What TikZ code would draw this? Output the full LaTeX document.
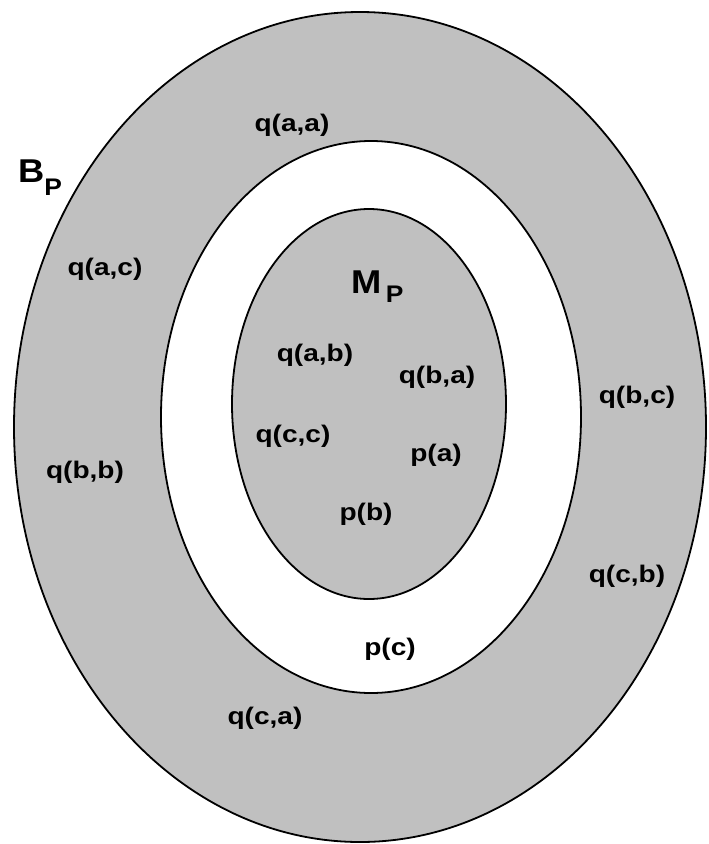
\documentclass[tikz,border=0pt]{standalone}
\usepackage{fontspec}
\setmainfont{Liberation Sans}
\definecolor{setGray}{RGB}{192, 192, 192}

\begin{document}
\begin{tikzpicture}[x=1pt, y=-1pt,
    ring/.style={draw=black, line width=1.8pt},
    lbl/.style={inner sep=0pt, font=\bfseries\fontsize{24}{26}\selectfont, xscale=1.17, transform shape},
    bigl/.style={inner sep=0pt, font=\bfseries\fontsize{33}{36}\selectfont, xscale=1.1, transform shape}
  ]
  \useasboundingbox (0,0) rectangle (709,844);
  % the three sets
  \draw[ring, fill=setGray] (360,427) ellipse [x radius=346pt, y radius=415pt];
  \draw[ring, fill=white] (371,417) ellipse [x radius=210pt, y radius=276pt];
  \draw[ring, fill=setGray] (369,404) ellipse [x radius=137pt, y radius=195pt];
  % set names
  \node[bigl, anchor=base west] (bp) at (18,182) {B\raisebox{-13pt}{\fontsize{24}{26}\selectfont P}};
  \node[bigl, anchor=base west] (mp) at (351,293) {M\kern4pt\raisebox{-9pt}{\fontsize{24}{26}\selectfont P}};
  % atoms
  \node[lbl] (qaa) at (292,125) {q(a,a)};
  \node[lbl] (qac) at (105,269) {q(a,c)};
  \node[lbl] (qab) at (315,355) {q(a,b)};
  \node[lbl] (qba) at (437,377) {q(b,a)};
  \node[lbl] (qbc) at (637,397) {q(b,c)};
  \node[lbl] (qcc) at (293,436) {q(c,c)};
  \node[lbl] (pa) at (436,455) {p(a)};
  \node[lbl] (qbb) at (85,472) {q(b,b)};
  \node[lbl] (pb) at (366,514) {p(b)};
  \node[lbl] (qcb) at (627,576) {q(c,b)};
  \node[lbl] (pc) at (390,649) {p(c)};
  \node[lbl] (qca) at (265,718) {q(c,a)};
\end{tikzpicture}
\end{document}
